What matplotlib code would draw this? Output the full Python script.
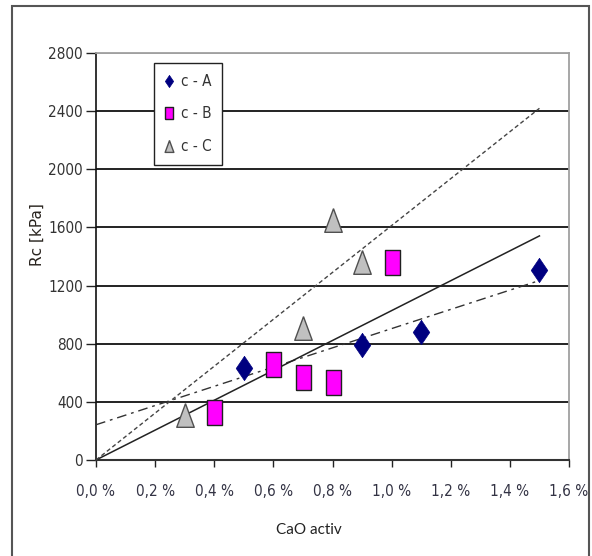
import numpy as np
import matplotlib
matplotlib.use("Agg")
import matplotlib.pyplot as plt
from matplotlib.patches import Rectangle
from matplotlib import font_manager
from matplotlib.font_manager import FontProperties

# ---- data ----
x_A = [0.5, 0.9, 1.1, 1.5]
y_A = [635, 793, 883, 1305]
x_B = [0.4, 0.6, 0.7, 0.8, 1.0]
y_B = [330, 659, 573, 539, 1364]
x_C = [0.3, 0.7, 0.8, 0.9]
y_C = [312, 906, 1651, 1362]
labels = ["c - A", "c - B", "c - C"]
x_ticks = [0.0, 0.2, 0.4, 0.6, 0.8, 1.0, 1.2, 1.4, 1.6]
x_ticklabels = ["0,0 %", "0,2 %", "0,4 %", "0,6 %", "0,8 %", "1,0 %", "1,2 %", "1,4 %", "1,6 %"]
y_ticks = [0, 400, 800, 1200, 1600, 2000, 2400, 2800]
trend_x = [0.0, 1.5]
xlabel = "CaO activ"
ylabel = "Rc [kPa]"

# pick a narrow/condensed sans font if one is installed
cands = []
for f in font_manager.fontManager.ttflist:
    if f.style != "normal" or f.weight not in (400, "normal", "regular"):
        continue
    if "Narrow" in f.name or "Condensed" in f.name or f.stretch in ("condensed", "semi-condensed"):
        if "Mono" in f.name or "Serif" in f.name:
            continue
        cands.append(f)
cands.sort(key=lambda f: (0 if "Liberation" in f.name else 1 if "Sans" in f.name else 2))
if cands:
    tick_fp = FontProperties(fname=cands[0].fname, size=11)
    tick_size = 11
else:
    tick_fp = FontProperties(family="Liberation Sans", size=11)
    tick_size = 11

fig = plt.figure(figsize=(5.92, 5.56), dpi=100)
ax = fig.add_axes([96/592, 1-460/556, (569-96)/592, (460-53)/556])

# trendlines (fits computed from the data)
tx = np.array(trend_x)
pA = np.polyfit(x_A, y_A, 1)
kB = np.dot(x_B, y_B) / np.dot(x_B, x_B)
kC = np.dot(x_C, y_C) / np.dot(x_C, x_C)
ax.plot(tx, np.polyval(pA, tx), color="#333333", lw=1.0, dashes=(7, 3.5, 2, 3.5), zorder=3)
ax.plot(tx, kB * tx, color="#222222", lw=1.1, zorder=3)
ax.plot(tx, kC * tx, color="#444444", lw=1.0, dashes=(3, 2), zorder=3)

diamond = [(0, 0.5), (0.34, 0), (0, -0.5), (-0.34, 0), (0, 0.5)]
rect = [(-0.3, -0.5), (0.3, -0.5), (0.3, 0.5), (-0.3, 0.5), (-0.3, -0.5)]
tri = [(0, 0.5), (0.37, -0.5), (-0.37, -0.5), (0, 0.5)]

ax.plot(x_A, y_A, ls="none", marker=diamond, ms=17.5, mfc="#000080", mec="#000080", mew=0.5,
        label=labels[0], zorder=4)
ax.plot(x_B, y_B, ls="none", marker=rect, ms=18, mfc="#FF00FF", mec="#202020", mew=1.0,
        label=labels[1], zorder=4)
ax.plot(x_C, y_C, ls="none", marker=tri, ms=17, mfc="#C0C0C0", mec="#505050", mew=1.0,
        label=labels[2], zorder=4)

ax.set_xlim(0, 1.6)
ax.set_ylim(0, 2800)
ax.set_xticks(x_ticks)
ax.set_xticklabels(x_ticklabels)
ax.set_yticks(y_ticks)
ax.set_yticklabels([str(v) for v in y_ticks])

ax.yaxis.grid(True, color="#111111", lw=1.3)
ax.set_axisbelow(True)
gl = ax.yaxis.get_gridlines()
gl[-1].set_color("#9a9a9a")
gl[0].set_visible(False)

for s in ["top", "right"]:
    ax.spines[s].set_color("#a0a0a0")
    ax.spines[s].set_linewidth(1.3)
ax.spines["left"].set_color("#111111")
ax.spines["bottom"].set_color("#333333")
ax.spines["left"].set_linewidth(1.2)
ax.spines["bottom"].set_linewidth(1.5)

ax.tick_params(axis="x", direction="out", length=5, width=1, color="#222222", pad=12,
               labelcolor="#333344")
ax.tick_params(axis="y", direction="out", length=7, width=1, color="#222222", pad=2.5,
               labelcolor="#333333")
for lab in ax.get_xticklabels() + ax.get_yticklabels():
    lab.set_fontproperties(tick_fp)

leg_fp = tick_fp.copy()
leg_fp.set_size(tick_size)
leg = ax.legend(loc="upper left", bbox_to_anchor=(0.123, 0.975), frameon=True, fancybox=False,
                edgecolor="#222222", framealpha=1, markerscale=0.5, handlelength=0.6,
                handletextpad=0.45, borderpad=0.7, labelspacing=1.15, borderaxespad=0,
                prop=leg_fp)
leg.get_frame().set_linewidth(1.0)
for t in leg.get_texts():
    t.set_color("#333333")

fig.text(37.5/592, 1-235/556, ylabel, rotation=90, ha="center", va="center",
         fontsize=11, color="#2a2520", family="DejaVu Sans")
fig.text(309/592, 1-530/556, xlabel, ha="center", va="center", fontsize=11,
         color="#222222", family="Lato")

# outer frame
fig.patches.append(Rectangle((12/592, -0.05), (589-12)/592, 1.05-6/556, transform=fig.transFigure,
                             fill=False, edgecolor="#555555", lw=1.5))

fig.savefig("out.png", dpi=100)
